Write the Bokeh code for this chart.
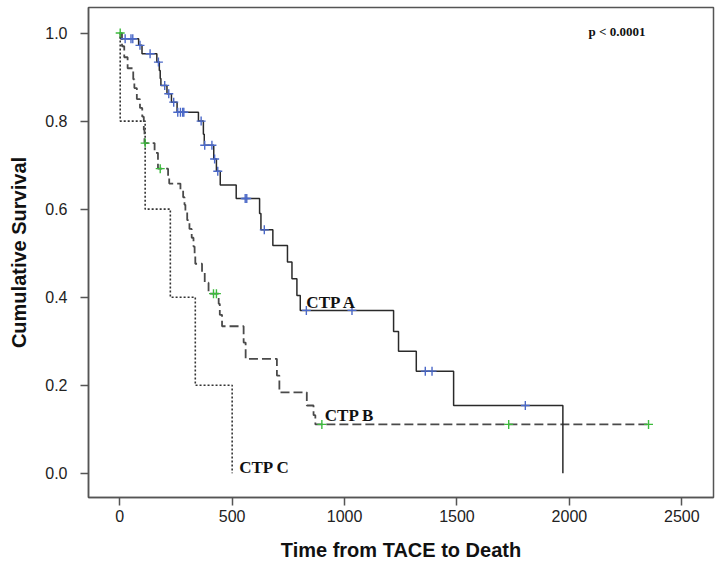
import numpy as np
from bokeh.plotting import figure
from bokeh.models import FixedTicker, Range1d
from bokeh.core.properties import value
from bokeh.embed import file_html
from bokeh.resources import INLINE

# ---- data ----
ctp_a_time = [0, 3, 84, 99, 165, 176, 180, 183, 210, 230, 255, 350, 372, 376, 418, 430,
              447, 518, 622, 628, 681, 746, 766, 788, 803, 1218, 1240, 1319, 1485, 1971]
ctp_a_surv = [1.0, 0.987, 0.972, 0.953, 0.934, 0.915, 0.897, 0.881, 0.862, 0.843, 0.820,
              0.800, 0.770, 0.745, 0.714, 0.686, 0.655, 0.624, 0.590, 0.553, 0.5175,
              0.480, 0.442, 0.404, 0.370, 0.322, 0.277, 0.232, 0.154, 0.0]
ctp_a_cens = [24, 50, 58, 90, 135, 172, 200, 218, 240, 258, 270, 280, 285, 362, 378,
              410, 422, 436, 558, 565, 643, 830, 1033, 1359, 1389, 1804]

ctp_b_time = [0, 10, 20, 35, 60, 65, 76, 90, 100, 107, 110, 155, 170, 215, 220, 270, 282,
              288, 292, 300, 310, 320, 328, 333, 336, 366, 378, 395, 440, 445, 455,
              551, 560, 699, 710, 832, 862, 870, 2352]
ctp_b_surv = [1.0, 0.970, 0.945, 0.920, 0.895, 0.875, 0.850, 0.830, 0.810, 0.780, 0.750,
              0.728, 0.692, 0.675, 0.658, 0.643, 0.627, 0.610, 0.595, 0.575, 0.555,
              0.535, 0.515, 0.495, 0.476, 0.457, 0.433, 0.408, 0.385, 0.360, 0.334,
              0.297, 0.260, 0.222, 0.184, 0.154, 0.132, 0.111, 0.111]
ctp_b_cens = [2, 113, 180, 417, 430, 899, 1730, 2352]

ctp_c_time = [0, 2, 113, 225, 336, 500]
ctp_c_surv = [1.0, 0.8, 0.6, 0.4, 0.2, 0.0]

x_ticks = [0, 500, 1000, 1500, 2000, 2500]
y_ticks = [0.0, 0.2, 0.4, 0.6, 0.8, 1.0]

group_labels = ["CTP A", "CTP B", "CTP C"]
label_x = [830, 912, 531]
label_y = [0.388, 0.132, 0.014]
p_text = "p < 0.0001"


def step_value(times, survs, t):
    idx = np.searchsorted(np.asarray(times), t, side="right") - 1
    return float(np.asarray(survs)[idx])


a_cens_y = [step_value(ctp_a_time, ctp_a_surv, t) for t in ctp_a_cens]
b_cens_y = [step_value(ctp_b_time, ctp_b_surv, t) for t in ctp_b_cens]

p = figure(width=721, height=564, output_backend="svg", toolbar_location=None,
           x_range=Range1d(-139, 2641), y_range=Range1d(-0.055, 1.058),
           min_border_left=88, min_border_right=8, min_border_top=7, min_border_bottom=67)

p.background_fill_color = "white"
p.border_fill_color = "white"
p.outline_line_color = "#555555"
p.outline_line_width = 1.5
p.xgrid.visible = False
p.ygrid.visible = False

# curves
p.step(ctp_c_time, ctp_c_surv, mode="after", line_color="#333333", line_width=1.6,
       line_dash="2 2")
p.step(ctp_b_time, ctp_b_surv, mode="after", line_color="#4a4a4a", line_width=1.8,
       line_dash="9 4")
p.step(ctp_a_time, ctp_a_surv, mode="after", line_color="#2a2a2a", line_width=1.5)

# censor marks
p.scatter(ctp_a_cens, a_cens_y, marker="cross", size=9, line_color="#4a68c8",
          line_width=1.4)
p.scatter(ctp_b_cens, b_cens_y, marker="cross", size=9, line_color="#3dbb3d",
          line_width=1.4)

# labels
p.text(label_x, label_y, text=group_labels, text_font=value("Liberation Serif"),
       text_font_style="bold", text_font_size="17px", text_color="#111111",
       text_align="left", text_baseline="alphabetic")
p.text([2085], [1.004], text=[p_text], text_font=value("Liberation Serif"),
       text_font_style="bold", text_font_size="13px", text_color="#111111",
       text_align="left", text_baseline="alphabetic")

# axes
for ax in (p.xaxis[0], p.yaxis[0]):
    ax.axis_line_color = "#555555"
    ax.axis_line_width = 1.5
    ax.major_tick_line_color = "#555555"
    ax.major_tick_line_width = 1.5
    ax.major_tick_out = 8
    ax.major_tick_in = 0
    ax.minor_tick_line_color = None
    ax.major_label_text_font = "Liberation Sans"
    ax.major_label_text_font_size = "16px"
    ax.major_label_text_color = "#222222"
    ax.axis_label_text_font = "Liberation Sans"
    ax.axis_label_text_font_style = "bold"
    ax.axis_label_text_font_size = "20px"
    ax.axis_label_text_color = "#111111"

p.xaxis[0].ticker = FixedTicker(ticks=x_ticks)
p.yaxis[0].ticker = FixedTicker(ticks=y_ticks)
p.xaxis[0].major_label_overrides = {t: str(t) for t in x_ticks}
p.yaxis[0].major_label_overrides = {t: f"{t:.1f}" for t in y_ticks}
p.xaxis[0].major_label_standoff = 4
p.yaxis[0].major_label_standoff = 13
p.xaxis[0].axis_label = "Time from TACE to Death"
p.yaxis[0].axis_label = "Cumulative Survival"
p.xaxis[0].axis_label_standoff = 14
p.yaxis[0].axis_label_standoff = 12

open("out.html", "w").write(file_html(p, INLINE))
